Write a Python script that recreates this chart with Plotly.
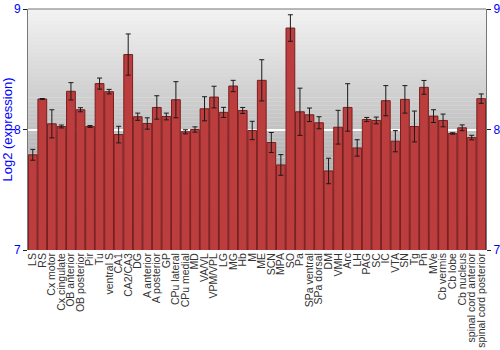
import plotly.graph_objects as go

categories = ["LS", "RS", "Cx motor", "Cx cingulate", "OB anterior", "OB posterior", "Pir", "Tu",
              "ventral S", "CA1", "CA2/CA3", "DG", "A anterior", "A posterior", "GP", "CPu lateral",
              "CPu medial", "MD", "VA/VL", "VPM/VPL", "LG", "MG", "Hb", "M", "ME", "SCN", "MPA", "SO",
              "Pa", "SPa ventral", "SPa dorsal", "DM", "VMH", "Arc", "LH", "PAG", "SC", "IC", "VTA",
              "SN", "Tg", "Pn", "MVe", "Cb vermis", "Cb lobe", "Cb nucleus", "spinal cord anterior",
              "spinal cord posterior"]

values = [7.79, 8.253, 8.047, 8.025, 8.317, 8.164, 8.025, 8.381,
          8.314, 7.958, 8.622, 8.106, 8.05, 8.183, 8.108, 8.247,
          7.981, 8.0, 8.172, 8.269, 8.142, 8.361, 8.158, 7.992, 8.408, 7.892, 7.706, 8.842,
          8.147, 8.122, 8.056, 7.656, 8.019, 8.183, 7.847, 8.083, 8.075, 8.239, 7.903,
          8.25, 8.025, 8.35, 8.111, 8.075, 7.967, 8.014, 7.933, 8.256]

errors = [0.045, 0.004, 0.117, 0.012, 0.072, 0.017, 0.008, 0.046,
          0.019, 0.069, 0.171, 0.03, 0.047, 0.097, 0.028, 0.15,
          0.017, 0.022, 0.1, 0.09, 0.042, 0.047, 0.025, 0.076, 0.171, 0.083, 0.086, 0.11,
          0.196, 0.056, 0.05, 0.106, 0.14, 0.197, 0.068, 0.017, 0.028, 0.125, 0.088,
          0.114, 0.128, 0.057, 0.053, 0.053, 0.006, 0.024, 0.019, 0.039]

y_ticks = [7, 8, 9]
y_range = [7, 9]

fig = go.Figure()
fig.add_trace(go.Bar(
    x=categories, y=values,
    marker=dict(color="#bb3d3d", line=dict(color="#7a1e1e", width=1)),
    error_y=dict(type="data", array=errors, visible=True, color="#1a1a1a", thickness=1, width=2.5),
))

# gradient background strips
n = 60
def mix(a, b, t):
    return int(round(a + (b - a) * t))
top = (242, 242, 242)
bot = (145, 145, 145)
shapes = []
for i in range(n):
    t = i / (n - 1)
    c = tuple(mix(top[k], bot[k], t) for k in range(3))
    shapes.append(dict(type="rect", xref="paper", yref="paper", x0=0, x1=1,
                       y0=1 - (i + 1) / n, y1=1 - i / n + 0.001, layer="below",
                       fillcolor="rgb(%d,%d,%d)" % c, line=dict(width=0)))
shapes.append(dict(type="line", xref="paper", yref="paper", x0=0, x1=1, y0=1, y1=1,
                   line=dict(color="#777777", width=1)))

fig.update_layout(
    width=500, height=350,
    margin=dict(l=28, r=14, t=9, b=100),
    paper_bgcolor="white", plot_bgcolor="rgba(0,0,0,0)",
    bargap=0.08, showlegend=False,
    font=dict(family="Liberation Sans, Arial, sans-serif"),
    shapes=shapes,
    xaxis=dict(tickangle=-90, tickfont=dict(size=10.5, color="#333333"), showgrid=False,
               tickmode="array", tickvals=categories, ticktext=categories,
               showline=False, ticks="", range=[-0.5, len(categories) - 0.5],
               automargin=False),
    yaxis=dict(range=y_range, tickvals=y_ticks, tickfont=dict(size=12, color="blue"),
               showline=True, linecolor="#777777", linewidth=1, ticks="outside", ticklen=4,
               tickcolor="#222222", showgrid=True, gridcolor="white", gridwidth=1.5,
               zeroline=False, automargin=False,
               title=dict(text="Log2 (expression)", font=dict(size=13, color="blue"), standoff=4)),
    yaxis2=dict(range=y_range, tickvals=y_ticks, tickfont=dict(size=12, color="blue"),
                overlaying="y", side="right", anchor="x", automargin=False,
                showline=True, linecolor="#777777", linewidth=1, ticks="outside", ticklen=4,
                tickcolor="#222222", showgrid=False, zeroline=False),
)
fig.add_trace(go.Scatter(x=[categories[0]], y=[values[0]], yaxis="y2", mode="markers",
                         marker=dict(opacity=0), hoverinfo="skip", showlegend=False))

fig.write_html("out.html")
